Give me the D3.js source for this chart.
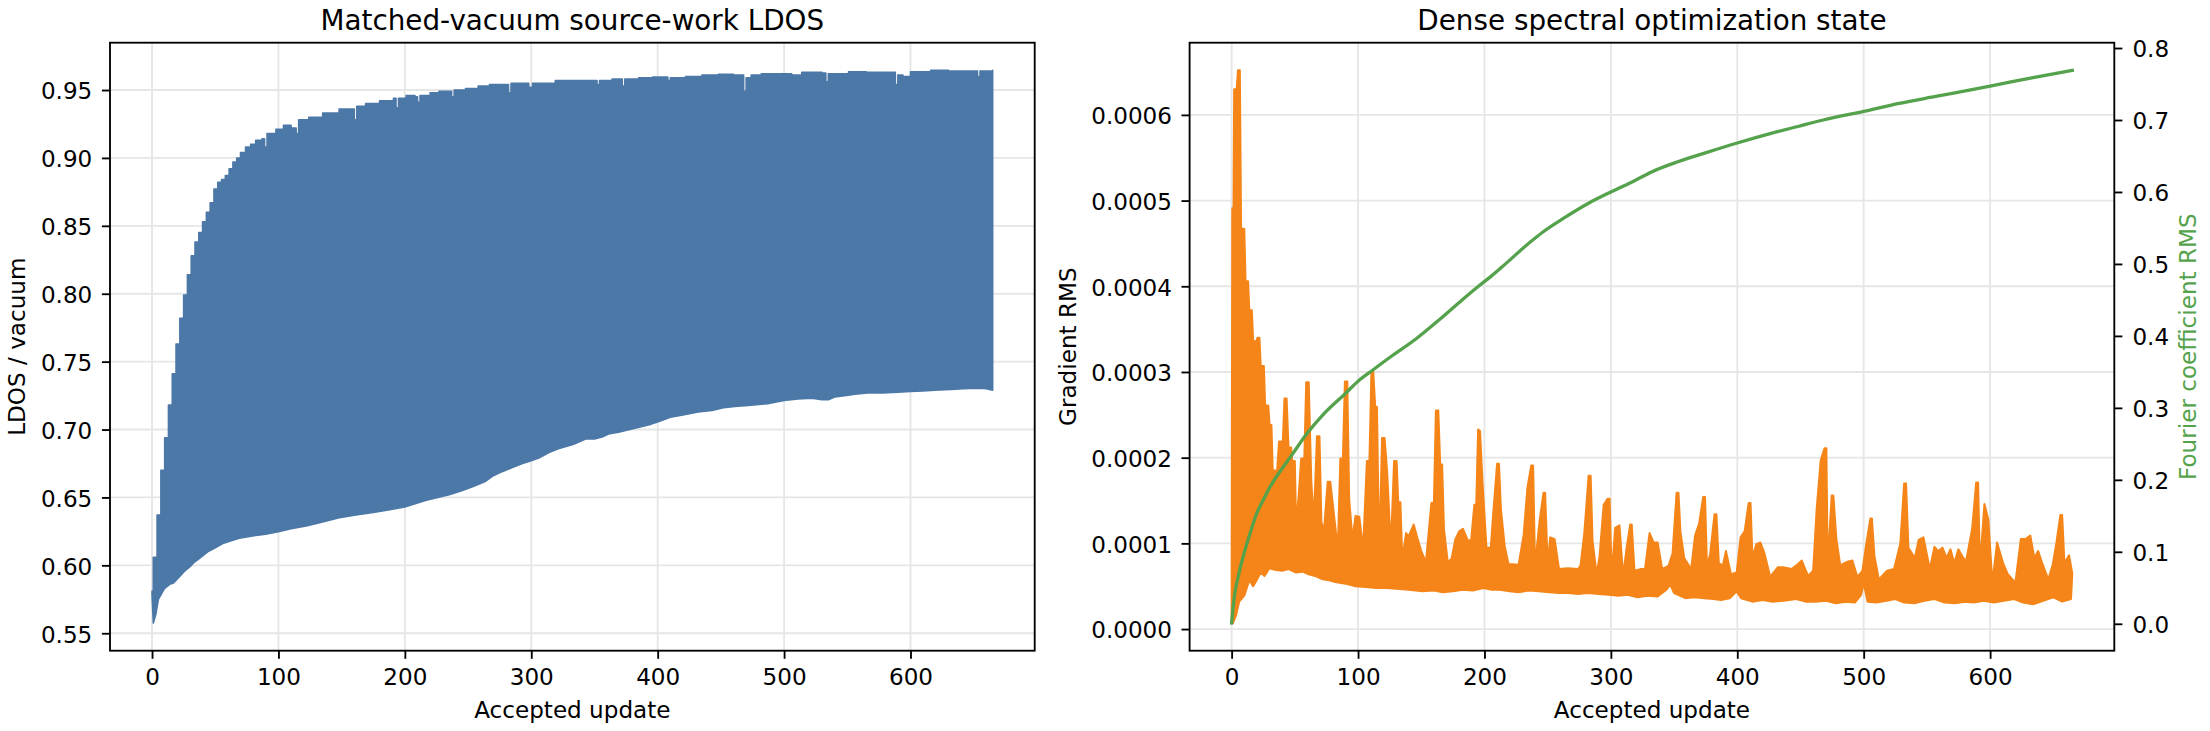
<!DOCTYPE html>
<html>
<head>
<meta charset="utf-8">
<script src="https://cdn.jsdelivr.net/npm/d3@7"></script>
<style>
body { margin: 0; background: #fff; }
svg text { font-family: "DejaVu Sans", sans-serif; fill: #000; }
</style>
</head>
<body>
<svg id="chart"></svg>
<script>
// tick labels
let updateTicks = [0, 100, 200, 300, 400, 500, 600]
let ldosTicks = [0.55, 0.60, 0.65, 0.70, 0.75, 0.80, 0.85, 0.90, 0.95]
let gradTicks = [0, 0.0001, 0.0002, 0.0003, 0.0004, 0.0005, 0.0006]
let coefTicks = [0, 0.1, 0.2, 0.3, 0.4, 0.5, 0.6, 0.7, 0.8]

// LDOS / vacuum: the series flips between a high and a low value every update,
// so it is kept as its upper and lower envelope [update, value]
let ldosUpper = [[0,0.581],[1,0.606],[4,0.637],[7,0.670],[10,0.694],[13,0.718],[16,0.741],[19,0.763],[22,0.782],[25,0.799],[28,0.814],[31,0.828],[34,0.838],[37,0.845],[40,0.853],[43,0.860],[46,0.867],[49,0.877],[52,0.882],[55,0.884],[58,0.887],[61,0.892],[64,0.897],[67,0.900],[70,0.904],[74,0.908],[78,0.910],[82,0.913],[87,0.914],[89,0.908],[91,0.918],[98,0.921],[104,0.924],[110,0.922],[114,0.918],[116,0.928],[124,0.930],[135,0.933],[148,0.936],[158,0.936],[160,0.928],[162,0.938],[169,0.940],[180,0.942],[191,0.944],[193,0.937],[195,0.944],[201,0.946],[208,0.945],[210,0.941],[212,0.946],[220,0.948],[227,0.949],[236,0.949],[237,0.945],[239,0.950],[248,0.951],[258,0.953],[267,0.954],[280,0.954],[282,0.948],[284,0.955],[292,0.955],[298,0.952],[301,0.955],[310,0.955],[319,0.957],[330,0.957],[343,0.957],[352,0.954],[354,0.957],[364,0.958],[372,0.953],[374,0.958],[385,0.959],[396,0.9595],[408,0.957],[410,0.959],[422,0.960],[435,0.961],[448,0.9615],[460,0.961],[468,0.949],[470,0.959],[474,0.961],[482,0.962],[495,0.962],[506,0.961],[514,0.963],[530,0.9625],[533,0.956],[535,0.962],[551,0.9635],[565,0.963],[580,0.963],[588,0.954],[590,0.961],[594,0.960],[600,0.9635],[616,0.9645],[630,0.964],[645,0.964],[653,0.960],[655,0.964],[665,0.9645]]
let ldosLower = [[0,0.579],[1,0.5575],[3,0.564],[5,0.575],[8,0.580],[10,0.583],[14,0.586],[17,0.587],[20,0.590],[23,0.593],[26,0.596],[30,0.599],[33,0.602],[36,0.604],[40,0.607],[44,0.610],[50,0.613],[56,0.616],[62,0.618],[69,0.620],[76,0.621],[82,0.622],[90,0.623],[99,0.6245],[110,0.627],[122,0.629],[135,0.632],[148,0.635],[160,0.637],[175,0.639],[188,0.641],[200,0.643],[210,0.646],[217,0.648],[226,0.650],[235,0.652],[245,0.655],[254,0.658],[264,0.662],[270,0.666],[277,0.669],[285,0.672],[293,0.675],[300,0.677],[306,0.679],[314,0.683],[322,0.686],[333,0.689],[343,0.693],[350,0.693],[356,0.6945],[362,0.697],[369,0.698],[378,0.700],[387,0.702],[395,0.704],[401,0.706],[410,0.709],[421,0.711],[432,0.713],[443,0.714],[452,0.716],[461,0.717],[474,0.718],[487,0.719],[500,0.7215],[511,0.7225],[522,0.723],[530,0.722],[535,0.722],[540,0.724],[548,0.725],[556,0.726],[566,0.727],[578,0.727],[590,0.7275],[600,0.728],[610,0.7285],[619,0.729],[632,0.7295],[642,0.730],[653,0.7305],[660,0.730],[665,0.729]]

// gradient RMS, same dense zigzag: upper edge (with spikes) and lower edge [update, value]
let gradUpper = [[0,0.07e-4],[0.5,4.91e-4],[1.5,4.91e-4],[2,6.30e-4],[4,6.30e-4],[5,6.52e-4],[6.5,6.52e-4],[7.5,4.67e-4],[10,4.67e-4],[11,4.06e-4],[13,4.06e-4],[14,3.72e-4],[16,3.72e-4],[17,3.36e-4],[19.5,3.36e-4],[20.5,3.40e-4],[22,3.40e-4],[23,3.07e-4],[25.5,3.07e-4],[26.5,2.61e-4],[29,2.61e-4],[30,2.38e-4],[31.5,2.38e-4],[32.5,1.85e-4],[36,1.85e-4],[37.5,2.19e-4],[40.5,2.19e-4],[41.8,2.69e-4],[43.5,2.69e-4],[45,2.12e-4],[47,2.12e-4],[48,1.96e-4],[50,1.96e-4],[51,1.22e-4],[53,1.55e-4],[55,1.99e-4],[57.5,1.99e-4],[59,2.88e-4],[61,2.88e-4],[63,1.73e-4],[65,1.25e-4],[67.5,2.25e-4],[69.5,2.25e-4],[71,1.25e-4],[73,1.14e-4],[76,1.72e-4],[78,1.72e-4],[80,1.46e-4],[84,0.93e-4],[86,1.99e-4],[88,1.99e-4],[89.6,2.89e-4],[91.5,2.89e-4],[93,1.51e-4],[95.6,1.05e-4],[98,1.32e-4],[101,1.31e-4],[104,0.93e-4],[107,1.96e-4],[109,1.96e-4],[110.6,3.01e-4],[112,3.01e-4],[113.6,2.59e-4],[115,2.59e-4],[116.7,0.82e-4],[119,2.23e-4],[121,2.23e-4],[123,1.84e-4],[126,0.94e-4],[128.5,1.96e-4],[130.5,1.96e-4],[131.8,1.48e-4],[133.5,1.48e-4],[135,0.82e-4],[138,1.12e-4],[140,1.08e-4],[144,1.22e-4],[147,1.06e-4],[150,0.91e-4],[153.7,0.78e-4],[158,1.47e-4],[160,1.47e-4],[161.6,2.55e-4],[163.5,2.55e-4],[165,1.92e-4],[166.5,1.92e-4],[168,1.16e-4],[171,0.78e-4],[174,0.82e-4],[177,1.05e-4],[180,1.14e-4],[183,1.17e-4],[187,1.03e-4],[189.5,1.04e-4],[192,1.45e-4],[193.5,1.45e-4],[195,2.33e-4],[196.5,2.31e-4],[198.5,1.70e-4],[201.6,0.95e-4],[205,0.95e-4],[207,1.36e-4],[210,1.93e-4],[211.5,1.93e-4],[213,1.40e-4],[216,0.97e-4],[219,0.76e-4],[227,0.75e-4],[231,1.10e-4],[234,1.65e-4],[237,1.91e-4],[238.5,1.91e-4],[240,0.74e-4],[243.6,1.26e-4],[246.7,1.59e-4],[248,1.59e-4],[250,0.74e-4],[252,1.07e-4],[255.5,1.05e-4],[259,0.70e-4],[266,0.71e-4],[274,0.70e-4],[276,0.74e-4],[279,1.12e-4],[282.4,1.79e-4],[284,1.79e-4],[285.5,1.03e-4],[288.7,0.64e-4],[291,0.84e-4],[294.3,1.45e-4],[297.4,1.52e-4],[299,1.52e-4],[300.6,0.62e-4],[303.4,1.18e-4],[306.8,1.21e-4],[309.7,0.62e-4],[312.5,0.95e-4],[315.3,1.22e-4],[316.5,1.22e-4],[318.7,0.68e-4],[324,0.70e-4],[327,0.70e-4],[330.6,1.12e-4],[333.8,1.01e-4],[337,1.01e-4],[340.6,0.70e-4],[345.7,0.74e-4],[348.8,0.88e-4],[352,1.59e-4],[353.5,1.59e-4],[355,1.14e-4],[358,0.83e-4],[363.5,0.70e-4],[366.6,1.09e-4],[369.8,1.23e-4],[373,1.54e-4],[374.5,1.54e-4],[376,0.74e-4],[378.5,0.87e-4],[382,1.34e-4],[383.5,1.34e-4],[385.4,0.77e-4],[388.6,0.74e-4],[391,0.91e-4],[395,0.64e-4],[399.5,0.66e-4],[402.6,1.07e-4],[405.8,1.14e-4],[409,1.47e-4],[410.5,1.47e-4],[412,0.83e-4],[415,0.99e-4],[418.3,1.01e-4],[421.4,0.89e-4],[426,0.61e-4],[432,0.72e-4],[437,0.72e-4],[443,0.70e-4],[446.5,0.74e-4],[451,0.80e-4],[456,0.62e-4],[460,0.68e-4],[462.8,1.40e-4],[466,1.97e-4],[469,2.11e-4],[470.5,2.11e-4],[471.5,0.74e-4],[474.7,1.56e-4],[476,1.56e-4],[478.4,1.05e-4],[481.5,0.74e-4],[484.7,0.77e-4],[487.8,0.79e-4],[491,0.80e-4],[495,0.61e-4],[499,0.68e-4],[502,0.99e-4],[505.3,1.29e-4],[506.5,1.29e-4],[508.5,0.85e-4],[512,0.58e-4],[518.5,0.68e-4],[524,0.70e-4],[529,1.00e-4],[532,1.70e-4],[533.5,1.70e-4],[535.4,0.95e-4],[540.4,0.83e-4],[543.5,1.04e-4],[547.3,1.07e-4],[552.3,0.70e-4],[556,0.96e-4],[559,0.91e-4],[562.3,0.95e-4],[565.5,0.83e-4],[568.6,0.93e-4],[571.7,0.77e-4],[574.9,0.93e-4],[578,0.85e-4],[581,0.79e-4],[585.8,1.17e-4],[589,1.71e-4],[590.5,1.71e-4],[592,0.72e-4],[595.5,1.46e-4],[598.6,1.28e-4],[601.8,0.54e-4],[605.5,1.01e-4],[610.5,0.76e-4],[614,0.64e-4],[620,0.54e-4],[624.3,1.05e-4],[628,1.05e-4],[631.8,1.09e-4],[635,0.83e-4],[638,0.91e-4],[641.2,0.77e-4],[646,0.58e-4],[649.4,0.74e-4],[652.5,1.01e-4],[655.6,1.33e-4],[657,1.33e-4],[658.8,0.77e-4],[662.5,0.86e-4],[665,0.65e-4]]
let gradLower = [[0,0.07e-4],[1,0.07e-4],[3.5,0.16e-4],[6,0.32e-4],[10,0.39e-4],[14,0.57e-4],[17,0.50e-4],[19,0.55e-4],[23,0.66e-4],[26,0.62e-4],[30,0.71e-4],[35,0.69e-4],[40,0.68e-4],[45,0.70e-4],[51,0.66e-4],[56,0.67e-4],[61,0.64e-4],[66,0.62e-4],[72,0.58e-4],[77,0.57e-4],[82,0.55e-4],[90,0.53e-4],[98,0.50e-4],[106,0.49e-4],[114,0.48e-4],[122,0.48e-4],[130,0.47e-4],[140,0.46e-4],[151,0.44e-4],[160,0.45e-4],[167,0.43e-4],[175,0.44e-4],[183,0.46e-4],[191,0.45e-4],[199,0.48e-4],[205,0.46e-4],[212,0.46e-4],[220,0.44e-4],[227,0.43e-4],[235,0.45e-4],[243,0.44e-4],[251,0.43e-4],[259,0.42e-4],[266,0.42e-4],[274,0.41e-4],[282,0.42e-4],[290,0.41e-4],[298,0.40e-4],[306,0.39e-4],[313,0.40e-4],[321,0.37e-4],[329,0.39e-4],[337,0.38e-4],[344,0.46e-4],[347,0.52e-4],[350,0.42e-4],[359,0.36e-4],[366,0.37e-4],[374,0.36e-4],[381,0.35e-4],[387,0.34e-4],[394,0.36e-4],[399.5,0.44e-4],[403,0.36e-4],[412,0.32e-4],[420,0.34e-4],[428,0.32e-4],[437,0.33e-4],[446.5,0.35e-4],[454,0.32e-4],[462,0.32e-4],[470,0.33e-4],[478,0.30e-4],[486,0.32e-4],[493,0.31e-4],[498,0.40e-4],[500,0.54e-4],[503,0.32e-4],[510,0.31e-4],[518,0.33e-4],[525,0.35e-4],[532,0.31e-4],[540,0.30e-4],[548,0.33e-4],[556,0.35e-4],[564,0.31e-4],[572,0.30e-4],[580,0.32e-4],[587,0.31e-4],[595,0.33e-4],[603,0.31e-4],[611,0.33e-4],[619,0.35e-4],[626,0.31e-4],[634,0.29e-4],[642,0.33e-4],[650,0.37e-4],[657,0.32e-4],[664,0.35e-4],[665,0.65e-4]]

// Fourier coefficient RMS [update, value]
let coefRms = [[0,0.001],[2,0.036],[5,0.064],[10,0.099],[15,0.128],[20,0.154],[25,0.172],[30,0.189],[40,0.216],[47,0.233],[59,0.263],[72,0.290],[90,0.320],[100,0.337],[112,0.353],[125,0.370],[146,0.396],[164,0.422],[183,0.451],[196,0.470],[204,0.481],[214,0.496],[236,0.530],[246,0.544],[264,0.565],[282,0.584],[300,0.600],[318,0.615],[335,0.630],[353,0.642],[376,0.655],[400,0.668],[426,0.681],[448,0.691],[468,0.700],[500,0.712],[528,0.723],[558,0.733],[600,0.747],[634,0.759],[665,0.769]]

let width = 2210
let height = 731
let plotTop = 42.7
let plotBottom = 650.7
let tickFont = 23.1
let titleFont = 27.8
let spineW = 1.85
let tickLen = 8.1

let blue = '#4c78a8'
let orange = '#f58518'
let green = '#54a24b'

let svg = d3.select('#chart').attr('width', width).attr('height', height)

// matplotlib-like autoscale: data extent plus 5% each side
let padded = (vals) => {
  let [lo, hi] = d3.extent(vals)
  let m = (hi - lo) * 0.05
  return [lo - m, hi + m]
}

let xOf = (d) => d[0]
let yOf = (d) => d[1]

let bandPath = (upper, lower, x, y, topCurve) => {
  let topLine = d3.line().x((d) => x(d[0])).y((d) => y(d[1])).curve(topCurve)
  let botLine = d3.line().x((d) => x(d[0])).y((d) => y(d[1]))
  return topLine(upper) + botLine(lower.slice().reverse()).replace(/^M/, 'L') + 'Z'
}

let styleAxis = (g) => {
  g.select('.domain').remove()
  g.selectAll('.tick line').attr('stroke', '#000').attr('stroke-width', spineW)
  g.selectAll('.tick text').attr('font-size', tickFont).attr('fill', '#000')
    .style('font-family', '"DejaVu Sans", sans-serif')
}

let makePanel = (x0, x1, title) => {
  let g = svg.append('g')
  g.append('text')
   .attr('x', (x0 + x1) / 2)
   .attr('y', 30)
   .attr('text-anchor', 'middle')
   .attr('font-size', titleFont)
   .text(title)
  return g
}

let drawGrid = (g, x, y, xt, yt, x0, x1) => {
  g.append('g').selectAll('line').data(xt).enter().append('line')
   .attr('x1', (d) => x(d)).attr('x2', (d) => x(d))
   .attr('y1', plotTop).attr('y2', plotBottom)
   .attr('stroke', '#e6e6e6').attr('stroke-width', 1.85)
  g.append('g').selectAll('line').data(yt).enter().append('line')
   .attr('x1', x0).attr('x2', x1)
   .attr('y1', (d) => y(d)).attr('y2', (d) => y(d))
   .attr('stroke', '#e6e6e6').attr('stroke-width', 1.85)
}

let drawFrame = (g, x0, x1) => {
  g.append('rect')
   .attr('x', x0).attr('y', plotTop)
   .attr('width', x1 - x0).attr('height', plotBottom - plotTop)
   .attr('fill', 'none').attr('stroke', '#000').attr('stroke-width', spineW)
}

let drawXAxis = (g, x) => {
  let ax = g.append('g')
   .attr('transform', 'translate(0,' + plotBottom + ')')
   .call(d3.axisBottom(x).tickValues(updateTicks).tickFormat(d3.format('d'))
         .tickSize(tickLen).tickPadding(9.8))
  styleAxis(ax)
}

let xLabel = (g, x0, x1) => {
  g.append('text')
   .attr('x', (x0 + x1) / 2).attr('y', 718)
   .attr('text-anchor', 'middle').attr('font-size', tickFont)
   .text('Accepted update')
}

let makeLeft = () => {
  let x0 = 110, x1 = 1034.7
  let g = makePanel(x0, x1, 'Matched-vacuum source-work LDOS')

  let all = ldosUpper.concat(ldosLower)
  let x = d3.scaleLinear().domain(padded(all.map(xOf))).range([x0, x1])
  let y = d3.scaleLinear().domain(padded(all.map(yOf))).range([plotBottom, plotTop])

  drawGrid(g, x, y, updateTicks, ldosTicks, x0, x1)

  g.append('path')
   .attr('d', bandPath(ldosUpper, ldosLower, x, y, d3.curveStepAfter))
   .attr('fill', blue)
   .attr('stroke', blue)
   .attr('stroke-width', 1.6)
   .attr('stroke-linejoin', 'round')

  drawFrame(g, x0, x1)
  drawXAxis(g, x)

  let ay = g.append('g')
   .attr('transform', 'translate(' + x0 + ',0)')
   .call(d3.axisLeft(y).tickValues(ldosTicks).tickFormat(d3.format('.2f'))
         .tickSize(tickLen).tickPadding(9.6))
  styleAxis(ay)
  ay.selectAll('.tick text').attr('dy', '0.38em')

  xLabel(g, x0, x1)
  g.append('text')
   .attr('transform', 'translate(25,' + (plotTop + plotBottom) / 2 + ') rotate(-90)')
   .attr('text-anchor', 'middle').attr('font-size', tickFont)
   .text('LDOS / vacuum')
}

let makeRight = () => {
  let x0 = 1189.6, x1 = 2114.3
  let g = makePanel(x0, x1, 'Dense spectral optimization state')

  let allGrad = gradUpper.concat(gradLower)
  let x = d3.scaleLinear().domain(padded(allGrad.map(xOf).concat(coefRms.map(xOf)))).range([x0, x1])
  let yGrad = d3.scaleLinear().domain(padded(allGrad.map(yOf))).range([plotBottom, plotTop])
  let yCoef = d3.scaleLinear().domain(padded(coefRms.map(yOf))).range([plotBottom, plotTop])

  drawGrid(g, x, yGrad, updateTicks, gradTicks, x0, x1)

  g.append('path')
   .attr('d', bandPath(gradUpper, gradLower, x, yGrad, d3.curveLinear))
   .attr('fill', orange)
   .attr('stroke', orange)
   .attr('stroke-width', 2)
   .attr('stroke-linejoin', 'round')

  g.append('path')
   .datum(coefRms)
   .attr('d', d3.line().x((d) => x(d[0])).y((d) => yCoef(d[1])).curve(d3.curveMonotoneX))
   .attr('fill', 'none')
   .attr('stroke', green)
   .attr('stroke-width', 3.3)
   .attr('stroke-linecap', 'square')

  drawFrame(g, x0, x1)
  drawXAxis(g, x)

  let ay = g.append('g')
   .attr('transform', 'translate(' + x0 + ',0)')
   .call(d3.axisLeft(yGrad).tickValues(gradTicks).tickFormat(d3.format('.4f'))
         .tickSize(tickLen).tickPadding(9.5))
  styleAxis(ay)
  ay.selectAll('.tick text').attr('dy', '0.38em')

  let ay2 = g.append('g')
   .attr('transform', 'translate(' + x1 + ',0)')
   .call(d3.axisRight(yCoef).tickValues(coefTicks).tickFormat(d3.format('.1f'))
         .tickSize(tickLen).tickPadding(10))
  styleAxis(ay2)
  ay2.selectAll('.tick text').attr('dy', '0.38em')

  xLabel(g, x0, x1)
  g.append('text')
   .attr('transform', 'translate(1076,' + (plotTop + plotBottom) / 2 + ') rotate(-90)')
   .attr('text-anchor', 'middle').attr('font-size', tickFont)
   .text('Gradient RMS')
  g.append('text')
   .attr('transform', 'translate(2196,' + (plotTop + plotBottom) / 2 + ') rotate(-90)')
   .attr('text-anchor', 'middle').attr('font-size', tickFont)
   .style('fill', green)
   .text('Fourier coefficient RMS')
}

makeLeft()
makeRight()
</script>
</body>
</html>
